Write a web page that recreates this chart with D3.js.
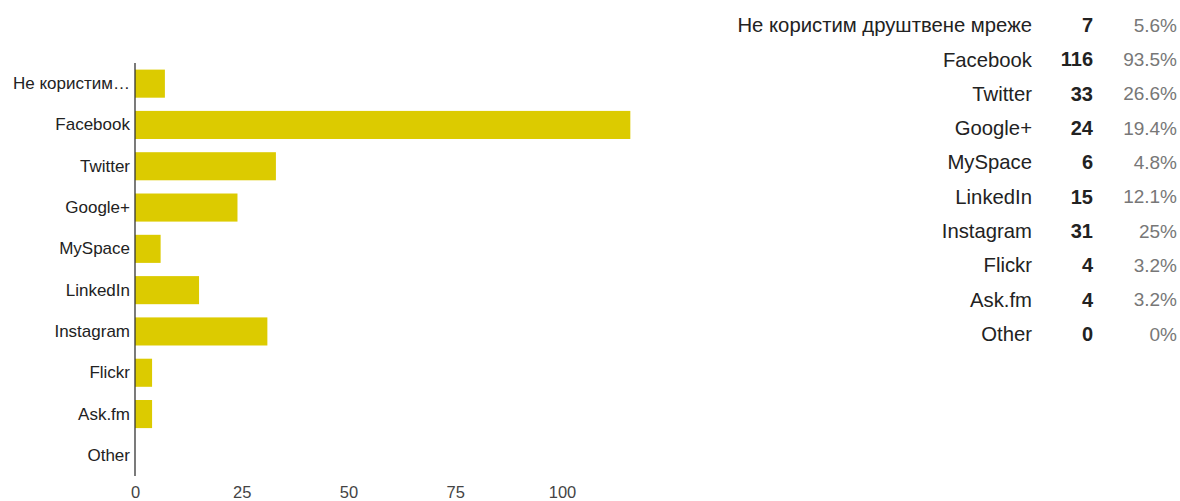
<!DOCTYPE html>
<html><head><meta charset="utf-8">
<script src="https://cdnjs.cloudflare.com/ajax/libs/d3/7.8.5/d3.min.js"></script>
<style>body{margin:0;background:#fff;}svg{display:block;font-family:"Liberation Sans",Arial,sans-serif;}</style>
</head><body>
<svg id="c" width="1180" height="501"></svg>
<script>
const categories = ["Не користим друштвене мреже","Facebook","Twitter","Google+","MySpace","LinkedIn","Instagram","Flickr","Ask.fm","Other"];
const axisLabels = ["Не користим…","Facebook","Twitter","Google+","MySpace","LinkedIn","Instagram","Flickr","Ask.fm","Other"];
const counts = [7,116,33,24,6,15,31,4,4,0];
const percents = ["5.6%","93.5%","26.6%","19.4%","4.8%","12.1%","25%","3.2%","3.2%","0%"];
const xTicks = [0,25,50,75,100];

const svg = d3.select("#c");
const x = d3.scaleLinear().domain([0,100]).range([135,562]);
const y = d3.scaleBand().domain(d3.range(categories.length)).range([63,476]).paddingInner(0.32).paddingOuter(0.16);

svg.selectAll("rect.bar").data(counts).join("rect")
  .attr("x", x(0)).attr("y",(d,i)=>y(i)).attr("width",d=>x(d)-x(0)).attr("height",y.bandwidth())
  .attr("fill","#dccb00");

svg.append("line").attr("x1",x(0)).attr("x2",x(0)).attr("y1",63).attr("y2",476).attr("stroke","#333").attr("stroke-width",1.3);

const yAxis = d3.axisLeft(y).tickSize(0).tickPadding(5).tickFormat(i=>axisLabels[i]);
const gy = svg.append("g").attr("transform",`translate(${x(0)},0)`).call(yAxis);
gy.select(".domain").remove();
gy.selectAll("text").attr("font-size",17).attr("fill","#222").attr("font-family","Liberation Sans, Arial, sans-serif");

const xAxis = d3.axisBottom(x).tickValues(xTicks).tickSize(0).tickPadding(0);
const gx = svg.append("g").attr("transform","translate(0,486)").call(xAxis);
gx.select(".domain").remove();
gx.selectAll("text").attr("font-size",16.5).attr("fill","#444").attr("font-family","Liberation Sans, Arial, sans-serif");

// summary table
const ty = d3.scaleBand().domain(d3.range(categories.length)).range([8,351]);
const rows = svg.append("g").selectAll("g").data(categories).join("g")
  .attr("transform",(d,i)=>`translate(0,${ty(i)+ty.bandwidth()/2})`);
rows.append("text").attr("x",1032).attr("dy","0.35em").attr("text-anchor","end")
  .attr("font-size",20.3).attr("fill","#222").text(d=>d);
rows.append("text").attr("x",1093).attr("dy","0.35em").attr("text-anchor","end")
  .attr("font-size",20).attr("font-weight","bold").attr("fill","#222").text((d,i)=>counts[i]);
rows.append("text").attr("x",1177).attr("dy","0.35em").attr("text-anchor","end")
  .attr("font-size",19).attr("fill","#777").text((d,i)=>percents[i]);
</script>
</body></html>
